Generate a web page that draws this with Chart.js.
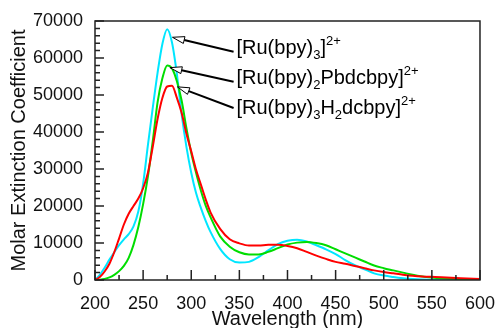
<!DOCTYPE html>
<html>
<head>
<meta charset="utf-8">
<script src="https://cdn.jsdelivr.net/npm/chart.js@4"></script>
<style>
    html, body { margin: 0; padding: 0; background: #fff; }
    canvas { display: block; }
</style>
</head>
<body>
<canvas id="chart" width="500" height="328"></canvas>
<script>
// Longueurs d'onde communes aux trois spectres (nm)
const wavelengths = [200, 205, 210, 215, 220, 225, 230, 235, 240, 245, 250, 255, 260, 265, 270, 275, 280, 285, 290, 295, 300, 305, 310, 315, 320,
    330, 340, 350, 360, 370, 380, 390, 400, 410, 420, 430, 440, 450, 460, 470, 480, 490, 500, 510, 520, 530, 540, 550, 560, 580, 600];

// [Ru(bpy)3]2+ (cyan)
const ruBpy3 = [0, 1400, 3300, 5500, 7500, 9400, 11000, 12400, 14500, 18500, 26000, 36500, 46500, 56000, 63800, 67800, 64200, 55800, 44800, 36000, 29000, 23500, 19500, 16000, 13000,
    8400, 5600, 4700, 4900, 6200, 8000, 9700, 10600, 10900, 10400, 9400, 8300, 7000, 5400, 4000, 2900, 1800, 1200, 800, 480, 250, 120, 60, 30, 10, 0];

// [Ru(bpy)2Pbdcbpy]2+ (vert)
const ruPbdcbpy = [0, 100, 300, 700, 1400, 2400, 3800, 6000, 9500, 14300, 20500, 28000, 37500, 48000, 54500, 58000, 57200, 53800, 48500, 41000, 34300, 29000, 24200, 20100, 17000,
    11800, 9000, 7500, 6900, 6900, 7600, 8600, 9600, 10100, 10300, 10000, 9400, 8300, 7200, 6100, 5000, 3900, 3200, 2600, 2000, 1400, 950, 650, 450, 250, 150];

// [Ru(bpy)3H2dcbpy]2+ (rouge)
const ruH2dcbpy = [0, 800, 2300, 4400, 7500, 11200, 15000, 17900, 20000, 22000, 24800, 29000, 36000, 43500, 49200, 52300, 52500, 49300, 45200, 39500, 34800, 29800, 25800, 21800, 18300,
    13800, 11000, 9900, 9300, 9300, 9500, 9500, 9200, 8600, 7600, 6600, 5700, 4900, 4400, 3800, 3200, 2600, 2150, 1800, 1450, 1150, 950, 850, 750, 500, 300];

// Axes
const xRange = [200, 600];
const xMajor = 50, xMinor = 25;
const yRange = [0, 70000];
const yMajor = 10000, yMinor = 2000;

// Étiquettes des annotations : [texte, type] (n = normal, sub = indice, sup = exposant)
const labelParts = [
    [["[Ru(bpy)", "n"], ["3", "sub"], ["]", "n"], ["2+", "sup"]],
    [["[Ru(bpy)", "n"], ["2", "sub"], ["Pbdcbpy]", "n"], ["2+", "sup"]],
    [["[Ru(bpy)", "n"], ["3", "sub"], ["H", "n"], ["2", "sub"], ["dcbpy]", "n"], ["2+", "sup"]]
];
// Position des étiquettes et des flèches en unités des axes
const labelAnchors = [[347, 61100], [347, 53000], [347, 44900]];
const arrowTails = [[344, 61700], [344, 53600], [344, 46500]];
const arrowTips = [[280.5, 65600], [277.8, 57400], [285.7, 52200]];

const FONT = '"Liberation Sans", Arial, Helvetica, sans-serif';
Chart.defaults.font.family = FONT;

const toPoints = (values) => wavelengths.map((w, i) => ({ x: w, y: values[i] }));

// Cadre, graduations internes et annotations
const framePlugin = {
    id: "frame",
    afterDatasetsDraw(chart) {
        const { ctx, chartArea: a, scales: { x, y } } = chart;
        ctx.save();

        // flèches
        arrowTips.forEach((tip, i) => {
            const tx = x.getPixelForValue(tip[0]), ty = y.getPixelForValue(tip[1]);
            const sx = x.getPixelForValue(arrowTails[i][0]), sy = y.getPixelForValue(arrowTails[i][1]);
            const len = Math.hypot(sx - tx, sy - ty);
            const ux = (sx - tx) / len, uy = (sy - ty) / len;
            const hl = 12, hw = 3.5;
            ctx.strokeStyle = "#000";
            ctx.lineWidth = 2;
            ctx.beginPath();
            ctx.moveTo(sx, sy);
            ctx.lineTo(tx + ux * hl, ty + uy * hl);
            ctx.stroke();
            ctx.beginPath();
            ctx.moveTo(tx, ty);
            ctx.lineTo(tx + ux * hl - uy * hw, ty + uy * hl + ux * hw);
            ctx.lineTo(tx + ux * hl + uy * hw, ty + uy * hl - ux * hw);
            ctx.closePath();
            ctx.fillStyle = "#fff";
            ctx.fill();
            ctx.lineWidth = 1;
            ctx.stroke();
        });

        // textes
        ctx.fillStyle = "#000";
        ctx.textBaseline = "alphabetic";
        ctx.textAlign = "left";
        labelParts.forEach((parts, i) => {
            let px = x.getPixelForValue(labelAnchors[i][0]);
            const base = y.getPixelForValue(labelAnchors[i][1]);
            parts.forEach(([txt, kind]) => {
                const size = kind === "n" ? 20 : 13;
                const dy = kind === "sub" ? 5 : kind === "sup" ? -9 : 0;
                ctx.font = size + "px " + FONT;
                ctx.fillText(txt, px, base + dy);
                px += ctx.measureText(txt).width;
            });
        });

        // cadre
        ctx.strokeStyle = "#222";
        ctx.lineWidth = 1.5;
        ctx.strokeRect(a.left, a.top, a.right - a.left, a.bottom - a.top);

        // graduations de l'axe x (vers l'intérieur)
        ctx.beginPath();
        for (let v = xRange[0]; v <= xRange[1]; v += xMinor) {
            const px = x.getPixelForValue(v);
            const l = v % xMajor === 0 ? 10 : 5;
            ctx.moveTo(px, a.bottom);
            ctx.lineTo(px, a.bottom - l);
        }
        // graduations de l'axe y
        for (let v = yRange[0]; v <= yRange[1]; v += yMinor) {
            const py = y.getPixelForValue(v);
            const l = v % yMajor === 0 ? 9 : 5;
            ctx.moveTo(a.left, py);
            ctx.lineTo(a.left + l, py);
        }
        ctx.stroke();
        ctx.restore();
    }
};

const chart = new Chart(document.getElementById("chart").getContext("2d"), {
    type: "line",
    data: {
        datasets: [
            { label: "[Ru(bpy)3]2+", data: toPoints(ruBpy3), borderColor: "#00e6ff", order: 3 },
            { label: "[Ru(bpy)2Pbdcbpy]2+", data: toPoints(ruPbdcbpy), borderColor: "#00dd00", order: 2 },
            { label: "[Ru(bpy)3H2dcbpy]2+", data: toPoints(ruH2dcbpy), borderColor: "#ff0000", order: 1 }
        ]
    },
    options: {
        responsive: false,
        animation: false,
        layout: { padding: { top: 21, right: 16, left: 0, bottom: 0 } },
        elements: {
            point: { radius: 0 },
            line: { borderWidth: 2, cubicInterpolationMode: "monotone", fill: false }
        },
        plugins: { legend: { display: false }, tooltip: { enabled: false } },
        scales: {
            x: {
                type: "linear",
                min: xRange[0],
                max: xRange[1],
                grid: { display: false },
                border: { display: false },
                ticks: {
                    stepSize: xMajor,
                    autoSkip: false,
                    maxRotation: 0,
                    padding: 5,
                    color: "#111",
                    font: { size: 18 },
                    callback: (v) => String(v)
                },
                title: {
                    display: true,
                    text: "Wavelength (nm)",
                    color: "#111",
                    font: { size: 20, lineHeight: 0.9 },
                    padding: 0
                },
                afterFit: (s) => { s.height = 48; }
            },
            y: {
                min: yRange[0],
                max: yRange[1],
                grid: { display: false },
                border: { display: false },
                ticks: {
                    stepSize: yMajor,
                    padding: 4,
                    color: "#111",
                    font: { size: 18 },
                    callback: (v) => String(v)
                },
                title: {
                    display: true,
                    text: "Molar Extinction Coefficient",
                    color: "#111",
                    font: { size: 20 },
                    padding: { top: 7, bottom: 0 }
                },
                afterFit: (s) => { s.width = 95; }
            }
        }
    },
    plugins: [framePlugin]
});
</script>
</body>
</html>
